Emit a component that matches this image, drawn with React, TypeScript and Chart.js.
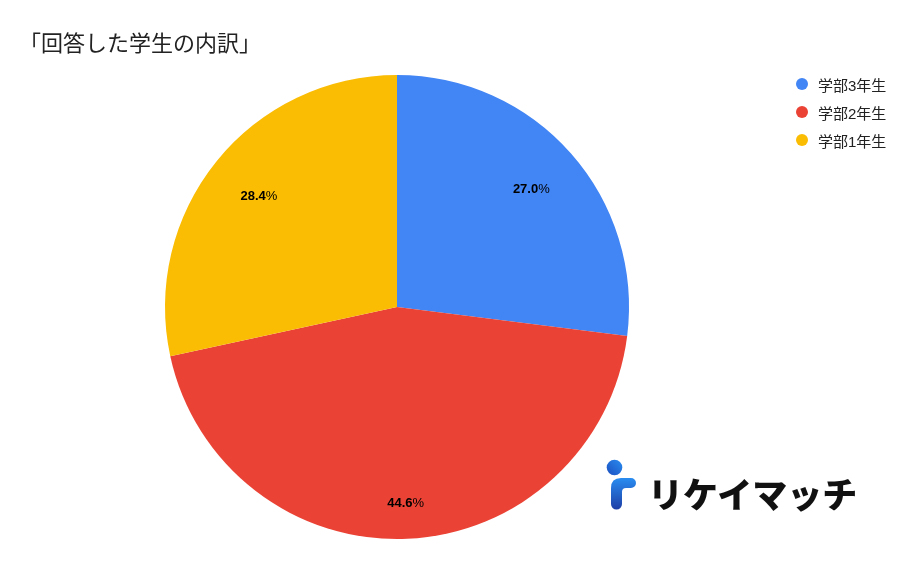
import React, { useEffect, useRef } from "react";
import { Chart, registerables } from "chart.js";

Chart.register(...registerables);

const categories = ["学部3年生", "学部2年生", "学部1年生"];
const values = [27.0, 44.6, 28.4];
const colors = ["#4285F4", "#EA4335", "#FBBC04"];
const titleText = "「回答した学生の内訳」";
const logoText = "リケイマッチ";

const labelPlugin = {
  id: "sliceLabels",
  afterDatasetsDraw(chart: any) {
    const ctx = chart.ctx;
    const meta = chart.getDatasetMeta(0);
    const total = values.reduce((a, b) => a + b, 0);
    ctx.save();
    ctx.fillStyle = "#000";
    ctx.textBaseline = "middle";
    meta.data.forEach((arc: any, i: number) => {
      const { x, y, startAngle, endAngle, outerRadius } = arc.getProps(
        ["x", "y", "startAngle", "endAngle", "outerRadius"],
        true
      );
      const mid = (startAngle + endAngle) / 2;
      const k = outerRadius / 232;
      const r = (146 + 50 * Math.abs(Math.sin(mid))) * k;
      const num = ((values[i] / total) * 100).toFixed(1);
      const cx = x + Math.cos(mid) * r;
      const cy = y + Math.sin(mid) * r + 1;
      ctx.font = "bold 13px 'Liberation Sans', Arial, sans-serif";
      const w1 = ctx.measureText(num).width;
      ctx.font = "13px 'Liberation Sans', Arial, sans-serif";
      const w2 = ctx.measureText("%").width;
      const left = cx - (w1 + w2) / 2;
      ctx.textAlign = "left";
      ctx.font = "bold 13px 'Liberation Sans', Arial, sans-serif";
      ctx.fillText(num, left, cy);
      ctx.font = "13px 'Liberation Sans', Arial, sans-serif";
      ctx.fillText("%", left + w1, cy);
    });
    ctx.restore();
  },
};

export default function App() {
  const ref = useRef<HTMLCanvasElement>(null);
  useEffect(() => {
    if (!ref.current) return;
    const chart = new Chart(ref.current, {
      type: "pie",
      data: {
        labels: categories,
        datasets: [
          {
            data: values,
            backgroundColor: colors,
            borderWidth: 0,
          },
        ],
      },
      options: {
        animation: false,
        responsive: false,
        maintainAspectRatio: false,
        layout: { padding: { left: 165, right: 289, top: 75, bottom: 29 } },
        plugins: {
          legend: { display: false },
          title: { display: false },
          tooltip: { enabled: false },
        },
      },
      plugins: [labelPlugin],
    });
    return () => chart.destroy();
  }, []);

  return (
    <div
      style={{
        position: "absolute",
        left: 0,
        top: 0,
        width: 918,
        height: 568,
        background: "#fff",
        fontFamily: "'Liberation Sans', 'Noto Sans CJK JP', sans-serif",
      }}
    >
      <canvas ref={ref} width={918} height={568} style={{ position: "absolute", left: 0, top: 0 }} />
      <div
        style={{
          position: "absolute",
          left: 19,
          top: 26,
          fontSize: 22,
          lineHeight: "30px",
          color: "#222",
          fontFamily: "'Noto Sans CJK JP', sans-serif",
          whiteSpace: "nowrap",
        }}
      >
        {titleText}
      </div>
      {categories.map((c, i) => (
        <div
          key={c}
          style={{
            position: "absolute",
            left: 796,
            top: 73 + i * 28,
            height: 22,
            display: "flex",
            alignItems: "center",
            fontSize: 15,
            color: "#222",
            fontFamily: "'Liberation Sans', 'Noto Sans CJK JP', sans-serif",
            whiteSpace: "nowrap",
          }}
        >
          <span
            style={{
              display: "inline-block",
              width: 12,
              height: 12,
              borderRadius: 6,
              background: colors[i],
              marginRight: 10,
            }}
          />
          {c}
        </div>
      ))}
      <svg
        style={{ position: "absolute", left: 600, top: 455 }}
        width={45}
        height={60}
        viewBox="0 0 45 60"
      >
        <defs>
          <linearGradient id="lg" x1="0" y1="0" x2="0" y2="1">
            <stop offset="0" stopColor="#2a8cf0" />
            <stop offset="1" stopColor="#1d3fa6" />
          </linearGradient>
          <linearGradient id="lc" x1="1" y1="0" x2="0" y2="1">
            <stop offset="0" stopColor="#2a8cf0" />
            <stop offset="1" stopColor="#1b4fc0" />
          </linearGradient>
        </defs>
        <circle cx={14.5} cy={12.5} r={7.8} fill="url(#lc)" />
        <path
          d="M11 49 L11 33 Q11 23 21 23 L31 23 A5 5 0 0 1 31 33 L26 33 Q22 33 22 37 L22 49 A5.5 5.5 0 0 1 11 49 Z"
          fill="url(#lg)"
        />
      </svg>
      <div
        style={{
          position: "absolute",
          left: 648,
          top: 468,
          fontSize: 35,
          lineHeight: "50px",
          fontWeight: 900,
          color: "#111",
          fontFamily: "'Noto Sans CJK JP', sans-serif",
          whiteSpace: "nowrap",
        }}
      >
        {logoText}
      </div>
    </div>
  );
}
